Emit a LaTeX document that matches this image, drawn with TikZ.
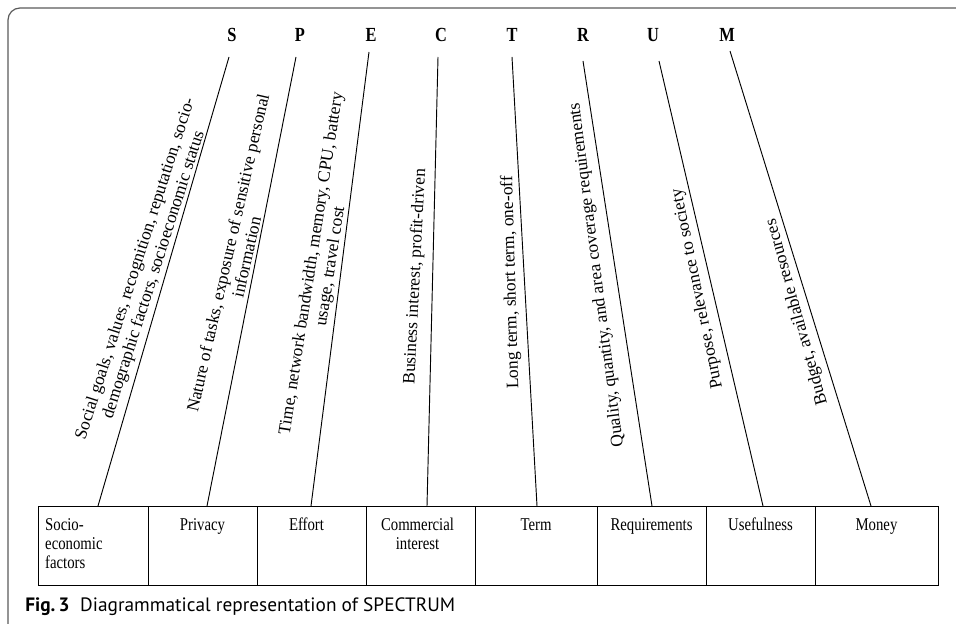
\documentclass[tikz,border=0pt]{standalone}
\usepackage{fontspec}
\setmainfont{Liberation Serif}
\newfontfamily\capfont{PT Sans}
\usepackage{graphicx}
\usetikzlibrary{calc}
\definecolor{framegray}{RGB}{90,90,90}
\begin{document}
\begin{tikzpicture}[x=0.75pt,y=-0.75pt,
  letter/.style={font=\fontsize{15}{17}\selectfont\bfseries, inner sep=0pt, xscale=0.82},
  desc/.style={font=\fontsize{13.1}{14.4}\selectfont, inner sep=0pt, align=center},
  lab/.style={font=\fontsize{13.5}{14.3}\selectfont, inner sep=0pt, xscale=0.82},
  box/.style={draw, line width=0.75pt, inner sep=0pt, outer sep=0pt, minimum height=59.25pt},
  conn/.style={draw, line width=0.7pt},
  frame/.style={draw=framegray, line width=0.9pt, rounded corners=9pt}]
\useasboundingbox (0,0) rectangle (956,624);
\begin{scope}
\clip (0,0) rectangle (956,624);
\draw[frame] (8,8) rectangle (990,650);
\end{scope}

% letters
\node[letter] (S) at (232,35) {S};
\node[letter] (P) at (300,35) {P};
\node[letter] (E) at (371,35) {E};
\node[letter] (C) at (441,35) {C};
\node[letter] (T) at (512,35) {T};
\node[letter] (R) at (583,35) {R};
\node[letter] (U) at (653,35) {U};
\node[letter] (M) at (727,35) {M};

% boxes
\node[box, minimum width=82.5pt]  (b1) at (93,545.5) {};
\node[box, minimum width=81.75pt] (b2) at (202.5,545.5) {};
\node[box, minimum width=81.75pt] (b3) at (311.5,545.5) {};
\node[box, minimum width=81.75pt] (b4) at (420.5,545.5) {};
\node[box, minimum width=91.5pt]  (b5) at (536,545.5) {};
\node[box, minimum width=81.75pt] (b6) at (651.5,545.5) {};
\node[box, minimum width=81.75pt] (b7) at (760.5,545.5) {};
\node[box, minimum width=92.25pt] (b8) at (876.5,545.5) {};

% box labels
\node[lab, anchor=base west] (l1) at ($(b1.north west)+(7,24)$) {\begin{tabular}[t]{@{}l@{}}Socio-\\economic\\factors\end{tabular}};
\node[lab, anchor=base] (l2) at ($(b2.north)+(0,24)$) {Privacy};
\node[lab, anchor=base] (l3) at ($(b3.north)+(-5,24)$) {Effort};
\node[lab, anchor=base] (l4) at ($(b4.north)+(-3,24)$) {\begin{tabular}[t]{@{}c@{}}Commercial\\interest\end{tabular}};
\node[lab, anchor=base] (l5) at ($(b5.north)+(0,24)$) {Term};
\node[lab, anchor=base] (l6) at ($(b6.north)+(0,24)$) {Requirements};
\node[lab, anchor=base] (l7) at ($(b7.north)+(0,24)$) {Usefulness};
\node[lab, anchor=base] (l8) at ($(b8.north)+(0,24)$) {Money};

% connectors
\draw[conn] ($(S)+(-3,22)$) -- ($(b1.north)+(5,0)$);
\draw[conn] ($(P)+(-4,22)$) -- ($(b2.north)+(4.5,0)$);
\draw[conn] ($(E)+(-2,17)$) -- ($(b3.north)+(-0.5,0)$);
\draw[conn] ($(C)+(-3,22)$) -- ($(b4.north)+(6.5,0)$);
\draw[conn] ($(T)+(0,22)$) -- ($(b5.north)+(1,0)$);
\draw[conn] ($(R)+(0,26)$) -- ($(b6.north)+(0.5,0)$);
\draw[conn] ($(U)+(6,26)$) -- ($(b7.north)+(2.5,0)$);
\draw[conn] ($(M)+(3,16)$) -- ($(b8.north)+(-5.5,0)$);

% descriptions
\node[desc, rotate=72.2] (dS) at (145,272) {Social goals, values, recognition, reputation, socio-\\demographic factors, socioeconomic status};
\node[desc, rotate=77.3] (dP) at (237,255) {Nature of tasks, exposure of sensitive personal\\information};
\node[desc, rotate=81.2] (dE) at (321.5,265) {Time, network bandwidth, memory, CPU, battery\\usage, travel cost};
\node[desc, rotate=87.1] (dC) at (415.5,276.5) {Business interest, profit-driven};
\node[desc, rotate=91.7] (dT) at (511,282.5) {Long term, short term, one-off};
\node[desc, rotate=97.3] (dR) at (597,275) {Quality, quantity, and area coverage requirements};
\node[desc, rotate=101.65] (dU) at (697.5,289) {Purpose, relevance to society};
\node[desc, rotate=105.7] (dM) at (797,312) {Budget, available resources};

% caption
\node[anchor=base west, inner sep=0pt, font=\capfont\fontsize{13}{15}\selectfont] (cap) at (25,611) {\resizebox{322.5pt}{!}{\textbf{Fig.\,3}\hspace{0.55em}Diagrammatical representation of SPECTRUM}};
\end{tikzpicture}
\end{document}
